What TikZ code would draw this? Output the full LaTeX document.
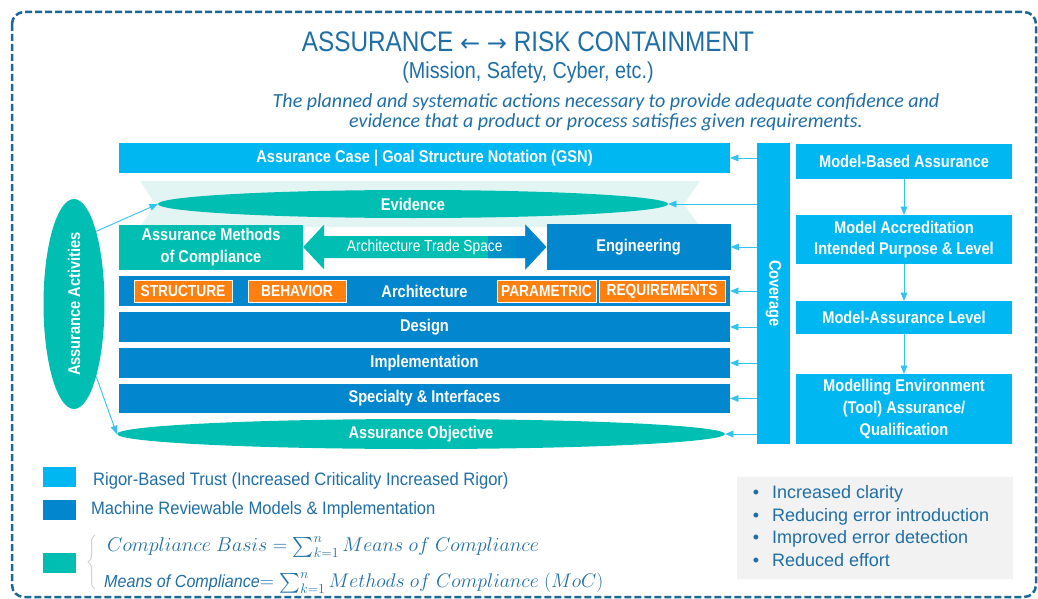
\documentclass[tikz,border=0pt]{standalone}
\usepackage{fontspec}
\usepackage{amsmath}
\usepackage{graphicx}
\usepackage{tikz}
\usetikzlibrary{positioning}
\usetikzlibrary{arrows}
\usetikzlibrary{calc}
\usetikzlibrary{math}
\usetikzlibrary{shapes.geometric}
\usetikzlibrary{decorations.pathreplacing}

\setmainfont{Liberation Sans}
\newfontfamily\narrowfont[FakeStretch=0.86]{Liberation Sans}
\newfontfamily\keyfont[FakeStretch=0.92]{Liberation Sans}
\newfontfamily\notefont{Carlito}
\newfontfamily\arrowfont{DejaVu Sans}

\definecolor{lightblue}{HTML}{00B7F1}
\definecolor{darkblue}{HTML}{0286CE}
\definecolor{tealgreen}{HTML}{00BEB2}
\definecolor{tagorange}{HTML}{FF7F0F}
\definecolor{textblue}{HTML}{1F6EA5}
\definecolor{framecol}{HTML}{1B6796}
\definecolor{arrowblue}{HTML}{33C3F0}
\definecolor{halo}{HTML}{E3F5F3}
\definecolor{boxgray}{HTML}{F2F2F2}
\definecolor{bracegray}{HTML}{D0D0D0}

\tikzset{
  boxfont/.style={font=\narrowfont\bfseries\fontsize{17}{21.7}\selectfont},
  lightbox/.style={boxfont, fill=lightblue, text=white, inner sep=0pt, align=center},
  bluebox/.style={boxfont, fill=darkblue, text=white, inner sep=0pt, align=center},
  tealbox/.style={boxfont, fill=tealgreen, text=white, inner sep=0pt, align=center},
  tealoval/.style={boxfont, ellipse, fill=tealgreen, text=white, inner sep=0pt},
  tagbox/.style={font=\narrowfont\bfseries\fontsize{16}{20}\selectfont, fill=tagorange,
    draw=white, line width=1pt, text=white, inner sep=0pt, minimum height=22pt},
  keybox/.style={minimum width=33pt, minimum height=20pt, inner sep=0pt},
  keytext/.style={font=\keyfont\fontsize{18}{20}\selectfont, text=textblue, anchor=west, inner sep=0pt},
  covarrow/.style={draw=arrowblue, line width=0.9pt, -triangle 45},
}

\begin{document}
\begin{tikzpicture}[x=1pt,y=-1pt]

  \tikzmath{
    \barx = 424.5; % centre of the stacked bars
    \barw = 611;   % width of the stacked bars
    \colx = 904;   % centre of the right column
    \colw = 216;   % width of the right column
  }

  \useasboundingbox (0,0) rectangle (1038,599);

  % dashed frame round everything
  \draw[framecol, line width=2.5pt, dash pattern=on 7pt off 3pt, rounded corners=12pt]
    (12,12) rectangle (1036,597);

  % heading
  \node[font=\narrowfont\fontsize{28.3}{32}\selectfont, text=textblue] (title) at (528,42)
    {ASSURANCE {\arrowfont\fontsize{24}{30}\selectfont ←} {\arrowfont\fontsize{24}{30}\selectfont →} RISK CONTAINMENT};
  \node[font=\narrowfont\fontsize{23}{26}\selectfont, text=textblue] (domains) at (528,73)
    {(Mission, Safety, Cyber, etc.)};
  \node[font=\notefont\itshape\fontsize{20}{20}\selectfont, text=textblue, align=center] (definition) at (606,112)
    {The planned and systematic actions necessary to provide adequate confidence and\\
     evidence that a product or process satisfies given requirements.};

  % stacked bars
  \node[lightbox, minimum width=\barw pt, minimum height=30pt] (gsn) at (\barx,158)
    {Assurance Case | Goal Structure Notation (GSN)};

  \fill[halo] (140,181) -- (700,181) -- (684,204) -- (700,227) -- (140,227) -- (155,204) -- cycle;
  \node[tealoval, minimum width=510pt, minimum height=28pt] (evidence) at (413,204) {Evidence};

  \node[tealbox, minimum width=184pt, minimum height=45pt] (amc) at (211,247)
    {Assurance Methods\\of Compliance};
  \node[bluebox, minimum width=184pt, minimum height=46pt] (eng) at (638.5,247) {Engineering};

  % trade space arrow, teal turning blue near its right head
  \path[fill=tealgreen, path picture={
      \shade[left color=tealgreen, right color=darkblue] (488,220) rectangle (516,275);
      \fill[darkblue] (515.5,220) rectangle (550,275);
    }]
    (amc.east) -- ++(21,-22.5) -- ++(0,11.5) -- ($(eng.west)+(-21,-11)$) -- ++(0,-11.5)
    -- (eng.west) -- ++(-21,22.5) -- ++(0,-11.5) -- ($(amc.east)+(21,11)$) -- ++(0,11.5) -- cycle;
  \node[font=\narrowfont\fontsize{16}{18}\selectfont, text=white] (tradespace)
    at ($(amc.east)!0.5!(eng.west)$) {Architecture Trade Space};

  \node[bluebox, minimum width=\barw pt, minimum height=30pt] (arch) at (\barx,291) {Architecture};
  \node[tagbox, minimum width=98pt]  (structure)    at (183,291)   {STRUCTURE};
  \node[tagbox, minimum width=98pt]  (behavior)     at (297,291)   {BEHAVIOR};
  \node[tagbox, minimum width=99pt]  (parametric)   at (546.5,291) {PARAMETRIC};
  \node[tagbox, minimum width=126pt] (requirements) at (662,291)   {REQUIREMENTS};

  \node[bluebox, minimum width=\barw pt, minimum height=30pt] (design) at (\barx,327) {Design};
  \node[bluebox, minimum width=\barw pt, minimum height=30pt] (impl)   at (\barx,363) {Implementation};
  \node[bluebox, minimum width=\barw pt, minimum height=29pt] (spec)   at (\barx,398.5) {Specialty \& Interfaces};

  \node[tealoval, minimum width=608pt, minimum height=30pt] (objective) at (421,434) {Assurance Objective};

  % assurance activities oval on the left
  \node[tealoval, minimum width=61pt, minimum height=210pt] (act) at (74,304) {};
  \node[boxfont, text=white, rotate=90] (actlabel) at (act.center) {Assurance Activities};
  \draw[covarrow] (act.73) -- (evidence.west);
  \draw[covarrow] (act.-73) -- (objective.west);

  % coverage column
  \node[lightbox, minimum width=33pt, minimum height=301pt] (cov) at (773.5,293.5)
    {\rotatebox{-90}{Coverage}};
  \draw[covarrow] (cov.west |- gsn.east) -- (gsn.east);
  \draw[covarrow] (cov.west |- evidence.east) -- (evidence.east);
  \draw[covarrow] (cov.west |- eng.east) -- (eng.east);
  \draw[covarrow] (cov.west |- arch.east) -- (arch.east);
  \draw[covarrow] (cov.west |- design.east) -- (design.east);
  \draw[covarrow] (cov.west |- impl.east) -- (impl.east);
  \draw[covarrow] (cov.west |- spec.east) -- (spec.east);
  \draw[covarrow] (cov.west |- objective.east) -- (objective.east);

  % model based assurance column
  \node[lightbox, minimum width=\colw pt, minimum height=35pt] (mba)  at (\colx,161.5) {Model-Based Assurance};
  \node[lightbox, minimum width=\colw pt, minimum height=49pt] (macc) at (\colx,239.5)
    {Model Accreditation\\Intended Purpose \& Level};
  \node[lightbox, minimum width=\colw pt, minimum height=33pt] (mal)  at (\colx,317.5) {Model-Assurance Level};
  \node[lightbox, minimum width=\colw pt, minimum height=70pt] (menv) at (\colx,409)
    {Modelling Environment\\(Tool) Assurance/\\Qualification};
  \draw[covarrow] (mba.south) -- (macc.north);
  \draw[covarrow] (macc.south) -- (mal.north);
  \draw[covarrow] (mal.south) -- (menv.north);

  % key
  \node[keybox, fill=lightblue] (keylight) at (59.5,477) {};
  \node[keytext] (keylighttext) at (93,481) {Rigor-Based Trust (Increased Criticality Increased Rigor)};
  \node[keybox, fill=darkblue] (keyblue) at (59.5,509.5) {};
  \node[keytext] (keybluetext) at (91,510) {Machine Reviewable Models \& Implementation};
  \node[keybox, fill=tealgreen] (keyteal) at (59.5,563) {};
  \draw[bracegray, line width=1pt, decorate, decoration={brace, amplitude=7pt}] (95,589) -- (95,535);
  \node[keytext, font=\fontsize{20}{24}\selectfont] (basis) at (107,547)
    {\scalebox{0.96}{$Compliance\ Basis = \sum_{k=1}^{n} Means\ of\ Compliance$}};
  \node[keytext, font=\fontsize{20}{24}\selectfont] (means) at (104,583)
    {{\keyfont\itshape\fontsize{17.5}{20}\selectfont Means of Compliance}\scalebox{0.95}{$= \sum_{k=1}^{n} Methods\ of\ Compliance\ (MoC)$}};

  % benefits
  \node[fill=boxgray, minimum width=276pt, minimum height=102pt, inner sep=0pt,
        font=\fontsize{18}{22.7}\selectfont, text=textblue] (benefits) at (875,528)
    {\begin{tabular}{@{}l@{\hspace{13pt}}l@{\hspace{8pt}}}
       \textbullet & Increased clarity\\
       \textbullet & Reducing error introduction\\
       \textbullet & Improved error detection\\
       \textbullet & Reduced effort
     \end{tabular}};

\end{tikzpicture}
\end{document}
